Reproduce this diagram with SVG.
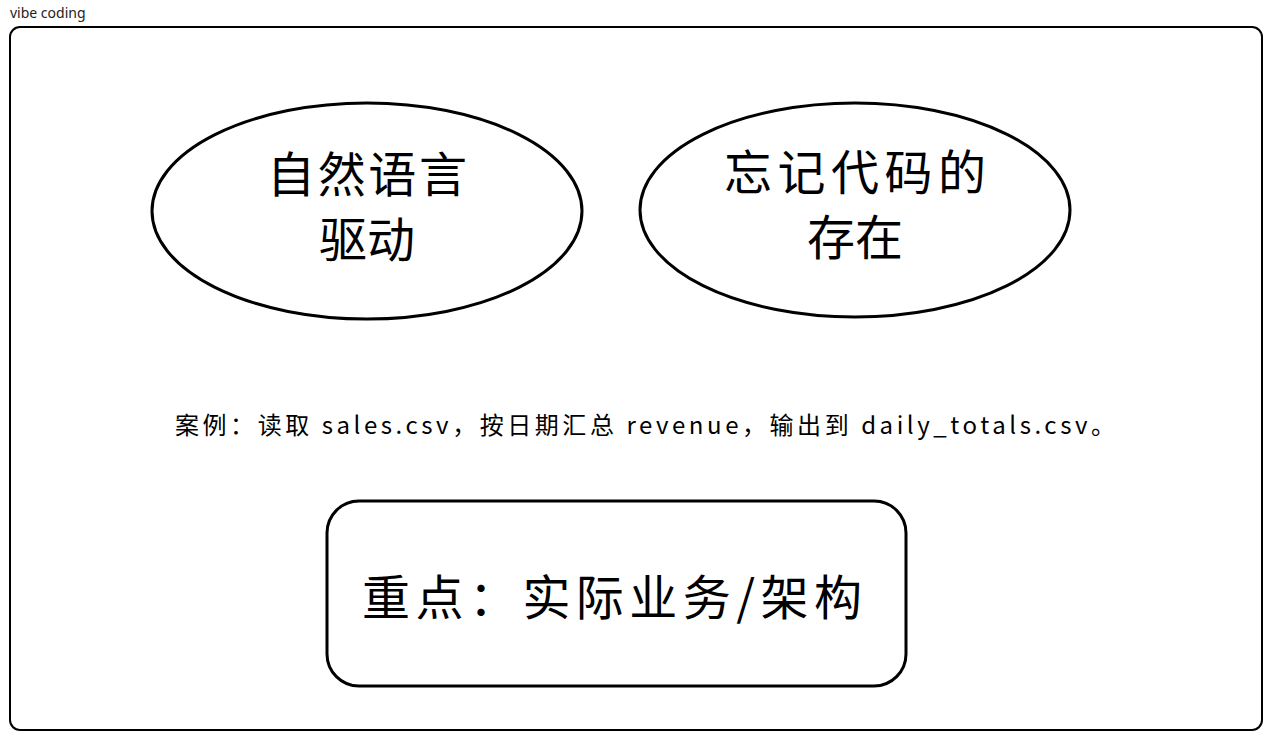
<svg xmlns="http://www.w3.org/2000/svg" width="1280" height="749" viewBox="0 0 1280 749">
<style>
.shape{fill:#fff;stroke:#000;stroke-width:3}
.big{font-family:"Noto Sans CJK SC","Noto Sans",sans-serif;font-size:48px;fill:#000;text-anchor:middle}
.mid{font-family:"Noto Sans CJK SC","Noto Sans",sans-serif;font-size:24px;fill:#000}
.lbl{font-family:"Noto Sans","Liberation Sans",sans-serif;font-size:14px;fill:#222}
</style>
<rect width="1280" height="749" fill="#fff"/>
<g id="frame">
<text class="lbl" x="10" y="18">vibe coding</text>
<rect x="10" y="27" width="1252" height="703" rx="10" fill="#fff" stroke="#000" stroke-width="2"/>
</g>
<g id="node-natural-language">
<ellipse class="shape" cx="367" cy="211" rx="215" ry="108"/>
<text class="big" x="367" y="192" textLength="200" lengthAdjust="spacing">自然语言</text>
<text class="big" x="367" y="257">驱动</text>
</g>
<g id="node-forget-code">
<ellipse class="shape" cx="855" cy="210" rx="215" ry="107"/>
<text class="big" x="855" y="190" textLength="262" lengthAdjust="spacing">忘记代码的</text>
<text class="big" x="855" y="255">存在</text>
</g>
<g id="case-text">
<text class="mid" x="175" y="434" textLength="940" lengthAdjust="spacing">案例：读取 sales.csv，按日期汇总 revenue，输出到 daily_totals.csv。</text>
</g>
<g id="node-focus">
<rect class="shape" x="327" y="501" width="579" height="185" rx="32"/>
<text class="big" x="362" y="615" style="text-anchor:start" textLength="500" lengthAdjust="spacing">重点：实际业务/架构</text>
</g>
<g id="connectors"></g>
</svg>
